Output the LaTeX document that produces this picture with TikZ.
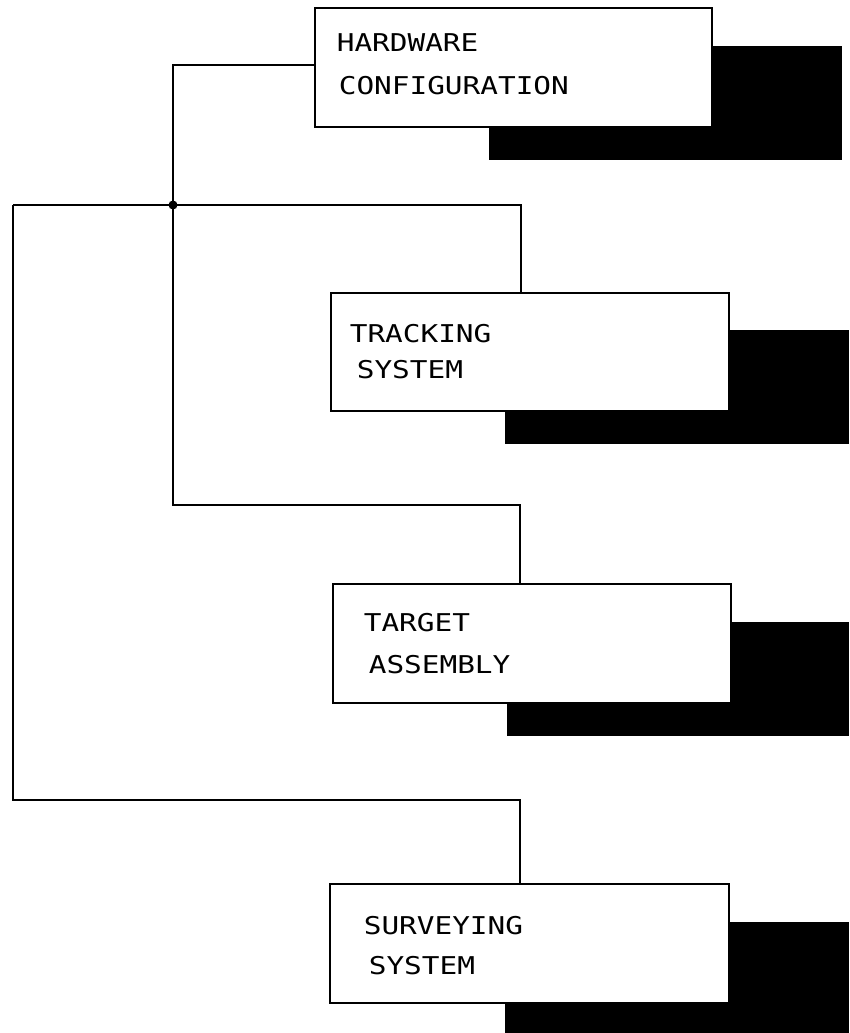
\documentclass[tikz,border=0pt]{standalone}
\usepackage{fontspec}
\newfontfamily\plotfont[FakeStretch=1.2]{DejaVu Sans Mono}
\usetikzlibrary{calc}
\begin{document}
\begin{tikzpicture}[x=1pt,y=-1pt,
  line width=1.6pt,
  boxnode/.style={draw=black, fill=white, rectangle, inner sep=0pt},
  shadowfill/.style={fill=black},
  lbl/.style={anchor=base west, inner sep=0pt, font=\plotfont\fontsize{24.5}{30}\selectfont},
  wire/.style={draw=black, line width=1.6pt}]
\useasboundingbox (0,0) rectangle (849,1033);
\fill[white] (0,0) rectangle (849,1033);
% shadows
\fill[shadowfill] (489,46) rectangle (842,160);
\fill[shadowfill] (505,330) rectangle (849,444);
\fill[shadowfill] (507,622) rectangle (849,736);
\fill[shadowfill] (505,922) rectangle (849,1033);
% boxes
\node[boxnode, minimum width=397pt, minimum height=119pt] (b1) at (513.5,67.5) {};
\node[boxnode, minimum width=398pt, minimum height=118pt] (b2) at (530,352) {};
\node[boxnode, minimum width=398pt, minimum height=119pt] (b3) at (532,643.5) {};
\node[boxnode, minimum width=399pt, minimum height=119pt] (b4) at (529.5,943.5) {};
% labels
\node[lbl] (t1a) at (336,52) {HARDWARE};
\node[lbl] (t1b) at (338,95) {CONFIGURATION};
\node[lbl] (t2a) at (349,342) {TRACKING};
\node[lbl] (t2b) at (356,378) {SYSTEM};
\node[lbl] (t3a) at (363,631) {TARGET};
\node[lbl] (t3b) at (368,673) {ASSEMBLY};
\node[lbl] (t4a) at (363,934) {SURVEYING};
\node[lbl] (t4b) at (368,974) {SYSTEM};
% connectors
\coordinate (J) at (173,205);
\coordinate (L) at (13,205);
\coordinate (k1) at (315,65);
\coordinate (k2) at (521,205);
\coordinate (k3) at (520,505);
\coordinate (k4) at (520,800);
\draw[wire] (k1) -| (J);
\draw[wire] (L) -- (J) -- (k2) -- (b2.north -| k2);
\draw[wire] (J) |- (k3) -- (b3.north -| k3);
\draw[wire] (L) |- (k4) -- (b4.north -| k4);
\fill (J) circle (4.5pt);
\end{tikzpicture}
\end{document}
